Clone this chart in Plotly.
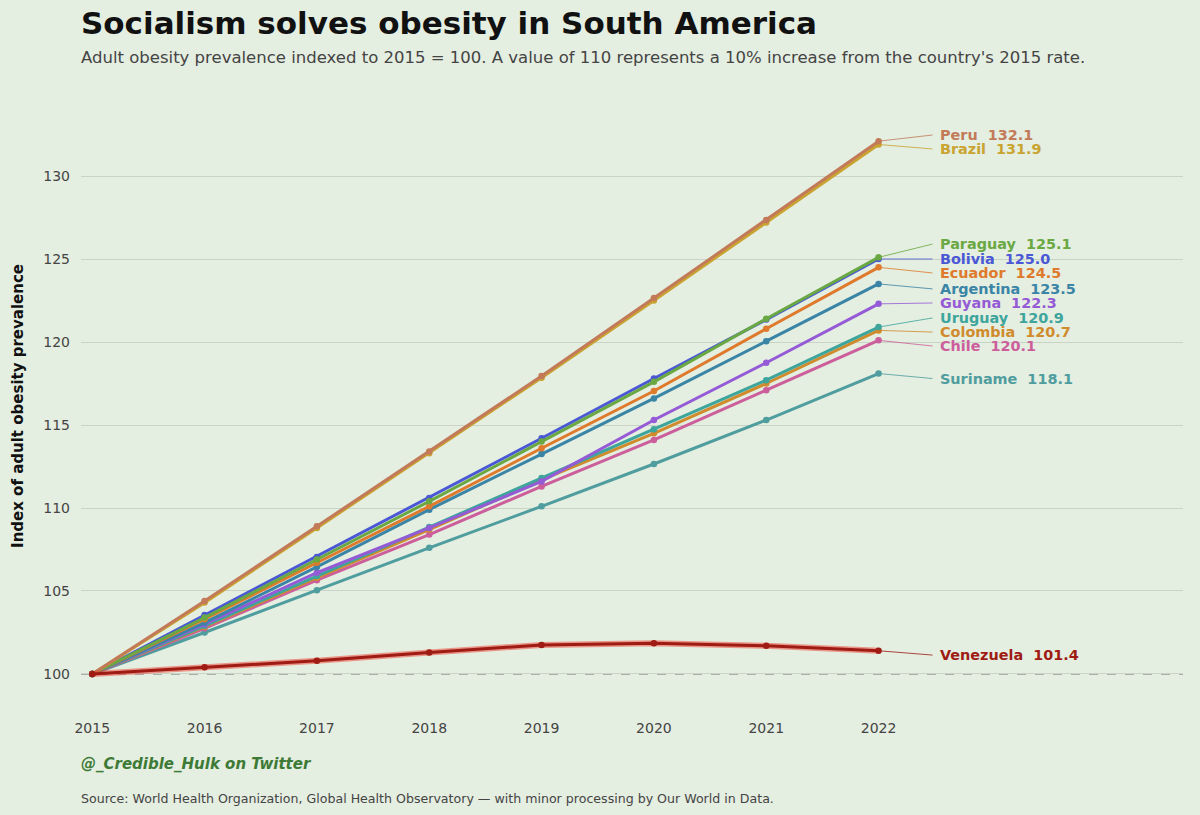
import plotly.graph_objects as go

years = [2015, 2016, 2017, 2018, 2019, 2020, 2021, 2022]

countries = ['Suriname', 'Chile', 'Colombia', 'Uruguay', 'Guyana', 'Argentina',
             'Ecuador', 'Bolivia', 'Paraguay', 'Brazil', 'Peru', 'Venezuela']

peru = [100, 104.4, 108.9, 113.4, 117.95, 122.65, 127.35, 132.1]
brazil = [100, 104.3, 108.8, 113.3, 117.85, 122.5, 127.2, 131.9]
paraguay = [100, 103.4, 106.9, 110.4, 114.0, 117.6, 121.4, 125.1]
bolivia = [100, 103.55, 107.05, 110.6, 114.2, 117.8, 121.35, 125.0]
ecuador = [100, 103.3, 106.7, 110.1, 113.6, 117.05, 120.8, 124.5]
argentina = [100, 103.1, 106.45, 109.9, 113.25, 116.6, 120.05, 123.5]
guyana = [100, 103.0, 106.1, 108.8, 111.6, 115.3, 118.75, 122.3]
uruguay = [100, 102.9, 105.9, 108.85, 111.8, 114.75, 117.7, 120.9]
colombia = [100, 102.85, 105.8, 108.7, 111.7, 114.5, 117.5, 120.7]
chile = [100, 102.75, 105.65, 108.4, 111.3, 114.1, 117.1, 120.1]
suriname = [100, 102.5, 105.05, 107.6, 110.1, 112.65, 115.3, 118.1]
venezuela = [100, 100.4, 100.8, 101.3, 101.75, 101.85, 101.7, 101.4]

values = {'Peru': peru, 'Brazil': brazil, 'Paraguay': paraguay, 'Bolivia': bolivia,
          'Ecuador': ecuador, 'Argentina': argentina, 'Guyana': guyana,
          'Uruguay': uruguay, 'Colombia': colombia, 'Chile': chile,
          'Suriname': suriname, 'Venezuela': venezuela}

# where the end labels sit (spread out so they don't overlap)
label_y = {'Peru': 132.47, 'Brazil': 131.63, 'Paraguay': 125.9, 'Bolivia': 125.0,
           'Ecuador': 124.16, 'Argentina': 123.2, 'Guyana': 122.35, 'Uruguay': 121.45,
           'Colombia': 120.6, 'Chile': 119.76, 'Suriname': 117.8, 'Venezuela': 101.14}

colors = {'Peru': '#c27a58', 'Brazil': '#c9a430', 'Paraguay': '#6aa843', 'Bolivia': '#4a58d6',
          'Ecuador': '#df7a2c', 'Argentina': '#3a84a6', 'Guyana': '#955ad6',
          'Uruguay': '#3ea59c', 'Colombia': '#d08b2c', 'Chile': '#cc5e9b',
          'Suriname': '#4f9d9e', 'Venezuela': '#9e1c14'}

bg = '#e4eee1'

fig = go.Figure()

for c in countries:
    if c == 'Venezuela':
        fig.add_trace(go.Scatter(x=years, y=values[c], mode='lines',
                                 line=dict(color='rgba(240,60,45,0.5)', width=6),
                                 hoverinfo='skip', showlegend=False))
    fig.add_trace(go.Scatter(x=years, y=values[c], mode='lines+markers', name=c,
                             line=dict(color=colors[c], width=3),
                             marker=dict(color=colors[c], size=6.5),
                             showlegend=False))
    # connector from last point to label
    fig.add_trace(go.Scatter(x=[years[-1], 2022.48], y=[values[c][-1], label_y[c]],
                             mode='lines', line=dict(color=colors[c], width=1),
                             opacity=0.8, hoverinfo='skip', showlegend=False))
    fig.add_annotation(x=2022.55, y=label_y[c], xanchor='left', yanchor='middle', xshift=-2,
                       text=f'<b>{c}\u00a0\u00a0{values[c][-1]:.1f}</b>', showarrow=False,
                       font=dict(size=14.4, color=colors[c]))

fig.add_shape(type='line', xref='paper', x0=0, x1=1, yref='y', y0=100, y1=100,
              line=dict(color='#999999', width=1.5, dash='dash'), layer='below')

fig.update_layout(
    width=1200, height=815,
    paper_bgcolor=bg, plot_bgcolor=bg,
    font=dict(family='DejaVu Sans', size=14, color='#444444'),
    margin=dict(l=81, r=17, t=100, b=103),
    title=dict(text='<b>Socialism solves obesity in South America</b>',
               x=81 / 1200, xanchor='left', y=1 - 23 / 815, yanchor='middle',
               font=dict(size=31, color='#111111')),
)
fig.add_annotation(xref='paper', yref='paper', x=0, y=1 + (100 - 57) / 612, xshift=-2,
                   xanchor='left', yanchor='middle', showarrow=False,
                   text="Adult obesity prevalence indexed to 2015 = 100. A value of 110 represents a 10% increase from the country's 2015 rate.",
                   font=dict(size=16.5, color='#444444'))
fig.add_annotation(xref='paper', yref='paper', x=0, y=-(764 - 712) / 612, xshift=-2,
                   xanchor='left', yanchor='middle', showarrow=False,
                   text='<b><i>@_Credible_Hulk on Twitter</i></b>',
                   font=dict(size=15, color='#3d7a35'))
fig.add_annotation(xref='paper', yref='paper', x=0, y=-(798 - 712) / 612, xshift=-2,
                   xanchor='left', yanchor='middle', showarrow=False,
                   text='Source: World Health Organization, Global Health Observatory — with minor processing by Our World in Data.',
                   font=dict(size=12.6, color='#444444'))

fig.update_xaxes(range=[2014.9, 2024.71], tickvals=years, showgrid=False,
                 zeroline=False, showline=False, ticks='', ticklabelstandoff=6)
fig.update_yaxes(range=[97.71, 134.58], tickvals=[100, 105, 110, 115, 120, 125, 130],
                 gridcolor='#c9d3c6', gridwidth=1, zeroline=False, showline=False,
                 ticks='', ticklabelstandoff=10,
                 title=dict(text='<b>Index of adult obesity prevalence</b>',
                            font=dict(size=15, color='#111111'), standoff=16))

# drop the default page margin so the figure sits at the window corner
fig.write_html('out.html', config={'displayModeBar': False},
               post_script="document.body.style.margin='0';")
